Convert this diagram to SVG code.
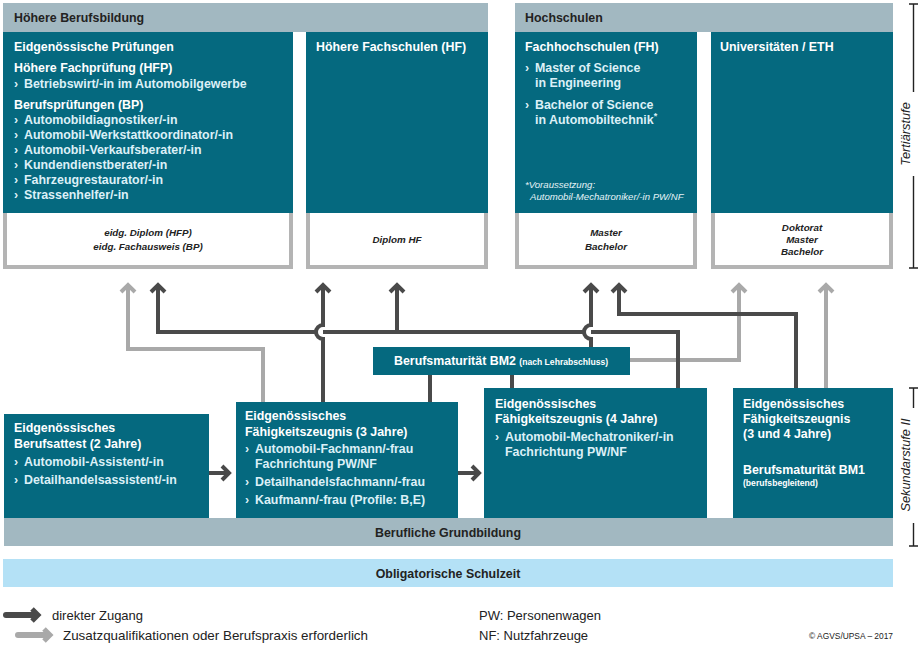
<svg xmlns="http://www.w3.org/2000/svg" width="920" height="647" viewBox="0 0 920 647">
<style>
text{font-family:"Liberation Sans",Arial,Helvetica,sans-serif}
.b{font-weight:bold;font-size:12.4px}
.dark{fill:#222}
.w{fill:#ffffff}
.it{fill:#dcf0f7}
.cert{font-style:italic;font-weight:bold;font-size:9.8px;fill:#222;text-anchor:middle}
.fn{font-style:italic;font-size:9.6px;fill:#e6f3f7}
.band{fill:#a2b8c1}
.teal{fill:#05697f}
.wbox{fill:#fff;stroke:#b4b4b4;stroke-width:4}
.dk{stroke:#4a4a4a;stroke-width:4;fill:none}
.lt{stroke:#a9a9a9;stroke-width:4;fill:none}
.leg{font-size:13px;fill:#222}
.stage{font-style:italic;font-size:12.8px;fill:#222;text-anchor:middle}
.br{stroke:#222;stroke-width:1.4;fill:none}
</style>
<defs>
<marker id="ad" markerUnits="userSpaceOnUse" markerWidth="24" markerHeight="24" viewBox="-12 -12 24 24" refX="0" refY="0" orient="auto">
<path d="M-7,-7 L0,0 L-7,7" stroke="#4a4a4a" stroke-width="4" fill="none"/>
</marker>
<marker id="al" markerUnits="userSpaceOnUse" markerWidth="24" markerHeight="24" viewBox="-12 -12 24 24" refX="0" refY="0" orient="auto">
<path d="M-7,-7 L0,0 L-7,7" stroke="#a9a9a9" stroke-width="4" fill="none"/>
</marker>
</defs>

<!-- header bands -->
<g id="hdr-hbb">
<rect class="band" x="3" y="3" width="485" height="29"/>
<text class="b dark" x="14" y="22">Höhere Berufsbildung</text>
</g>
<g id="hdr-hs">
<rect class="band" x="515" y="3" width="378" height="29"/>
<text class="b dark" x="525" y="22">Hochschulen</text>
</g>

<!-- Eidgenössische Prüfungen -->
<g id="node-ep">
<rect class="wbox" x="5" y="211" width="286" height="56"/>
<rect class="teal" x="3" y="32" width="290" height="181"/>
<text class="b w" x="14" y="51">Eidgenössische Prüfungen</text>
<text class="b w" x="14" y="72">Höhere Fachprüfung (HFP)</text>
<text class="b it" x="14" y="88">›</text><text class="b it" x="24" y="88">Betriebswirt/-in im Automobilgewerbe</text>
<text class="b w" x="14" y="109">Berufsprüfungen (BP)</text>
<text class="b it" x="14" y="124">›</text><text class="b it" x="24" y="124">Automobildiagnostiker/-in</text>
<text class="b it" x="14" y="139">›</text><text class="b it" x="24" y="139">Automobil-Werkstattkoordinator/-in</text>
<text class="b it" x="14" y="154">›</text><text class="b it" x="24" y="154">Automobil-Verkaufsberater/-in</text>
<text class="b it" x="14" y="169">›</text><text class="b it" x="24" y="169">Kundendienstberater/-in</text>
<text class="b it" x="14" y="184">›</text><text class="b it" x="24" y="184">Fahrzeugrestaurator/-in</text>
<text class="b it" x="14" y="199">›</text><text class="b it" x="24" y="199">Strassenhelfer/-in</text>
<text class="cert" x="148" y="236">eidg. Diplom (HFP)</text>
<text class="cert" x="148" y="250">eidg. Fachausweis (BP)</text>
</g>

<!-- HF -->
<g id="node-hf">
<rect class="wbox" x="308" y="211" width="178" height="56"/>
<rect class="teal" x="306" y="32" width="182" height="181"/>
<text class="b w" x="316" y="51">Höhere Fachschulen (HF)</text>
<text class="cert" x="397" y="243">Diplom HF</text>
</g>

<!-- FH -->
<g id="node-fh">
<rect class="wbox" x="517" y="211" width="178" height="56"/>
<rect class="teal" x="515" y="32" width="182" height="181"/>
<text class="b w" x="525" y="51">Fachhochschulen (FH)</text>
<text class="b it" x="525" y="72">›</text><text class="b it" x="535" y="72">Master of Science</text>
<text class="b it" x="535" y="87">in Engineering</text>
<text class="b it" x="525" y="109">›</text><text class="b it" x="535" y="109">Bachelor of Science</text>
<text class="b it" x="535" y="124">in Automobiltechnik<tspan style="font-size:9px" dy="-5">*</tspan></text>
<text class="fn" x="525" y="188">*Voraussetzung:</text>
<text class="fn" x="530" y="200">Automobil-Mechatroniker/-in PW/NF</text>
<text class="cert" x="606" y="236">Master</text>
<text class="cert" x="606" y="250">Bachelor</text>
</g>

<!-- Uni -->
<g id="node-uni">
<rect class="wbox" x="713" y="211" width="178" height="56"/>
<rect class="teal" x="711" y="32" width="182" height="181"/>
<text class="b w" x="720" y="51">Universitäten / ETH</text>
<text class="cert" x="802" y="231">Doktorat</text>
<text class="cert" x="802" y="243">Master</text>
<text class="cert" x="802" y="255">Bachelor</text>
</g>

<!-- connectors -->
<g id="connectors">
<path class="lt" d="M263,402 V349 H128 V285" marker-end="url(#al)"/>
<path class="lt" d="M630,360 H739 V285" marker-end="url(#al)"/>
<path class="lt" d="M826,388 V285" marker-end="url(#al)"/>
<path class="dk" d="M317,332 H158 V285" marker-end="url(#ad)"/>
<path class="dk" d="M323,332 H585"/>
<path class="dk" d="M591,332 H678 V388"/>
<path class="dk" d="M397,332 V285" marker-end="url(#ad)"/>
<path class="dk" d="M323,402 V339 A7,7 0 0 1 323,325 V285" marker-end="url(#ad)"/>
<path class="dk" d="M591,347 V339 A7,7 0 0 1 591,325 V285" marker-end="url(#ad)"/>
<path class="dk" d="M796,388 V314 H619 V285" marker-end="url(#ad)"/>
<path class="dk" d="M430,375 V402"/>
<path class="dk" d="M512,375 V388"/>
<path class="dk" d="M209,473 H229" marker-end="url(#ad)"/>
<path class="dk" d="M458,473 H479" marker-end="url(#ad)"/>
</g>

<!-- BM2 -->
<g id="node-bm2">
<rect class="teal" x="373" y="347" width="257" height="28"/>
<text class="b w" x="394" y="365">Berufsmaturität BM2 <tspan style="font-size:8.6px">(nach Lehrabschluss)</tspan></text>
</g>

<!-- EBA -->
<g id="node-eba">
<rect class="teal" x="4" y="414" width="205" height="104"/>
<text class="b w" x="14" y="432">Eidgenössisches</text>
<text class="b w" x="14" y="448">Berufsattest (2 Jahre)</text>
<text class="b it" x="14" y="466">›</text><text class="b it" x="24" y="466">Automobil-Assistent/-in</text>
<text class="b it" x="14" y="484">›</text><text class="b it" x="24" y="484">Detailhandelsassistent/-in</text>
</g>

<!-- EFZ 3 -->
<g id="node-efz3">
<rect class="teal" x="236" y="402" width="222" height="116"/>
<text class="b w" x="245" y="420">Eidgenössisches</text>
<text class="b w" x="245" y="436">Fähigkeitszeugnis (3 Jahre)</text>
<text class="b it" x="245" y="453">›</text><text class="b it" x="255" y="453">Automobil-Fachmann/-frau</text>
<text class="b it" x="255" y="468">Fachrichtung PW/NF</text>
<text class="b it" x="245" y="486">›</text><text class="b it" x="255" y="486">Detailhandelsfachmann/-frau</text>
<text class="b it" x="245" y="504">›</text><text class="b it" x="255" y="504">Kaufmann/-frau (Profile: B,E)</text>
</g>

<!-- EFZ 4 -->
<g id="node-efz4">
<rect class="teal" x="484" y="388" width="223" height="130"/>
<text class="b w" x="495" y="408">Eidgenössisches</text>
<text class="b w" x="495" y="423">Fähigkeitszeugnis (4 Jahre)</text>
<text class="b it" x="495" y="441">›</text><text class="b it" x="505" y="441">Automobil-Mechatroniker/-in</text>
<text class="b it" x="505" y="456">Fachrichtung PW/NF</text>
</g>

<!-- EFZ 3/4 + BM1 -->
<g id="node-efz34">
<rect class="teal" x="733" y="388" width="160" height="130"/>
<text class="b w" x="743" y="408">Eidgenössisches</text>
<text class="b w" x="743" y="423">Fähigkeitszeugnis</text>
<text class="b w" x="743" y="438">(3 und 4 Jahre)</text>
<text class="b w" x="743" y="474">Berufsmaturität BM1</text>
<text class="b w" x="743" y="486" style="font-size:8.6px">(berufsbegleitend)</text>
</g>

<!-- bottom bands -->
<g id="band-grund">
<rect class="band" x="4" y="518" width="889" height="28"/>
<text class="b dark" x="448" y="537" text-anchor="middle">Berufliche Grundbildung</text>
</g>
<g id="band-schule">
<rect fill="#b4e1f6" x="3" y="559" width="890" height="28"/>
<text class="b dark" x="448" y="578" text-anchor="middle">Obligatorische Schulzeit</text>
</g>

<!-- stage brackets -->
<g id="stage-tertiaer">
<path class="br" d="M913.5,4 V92 M913.5,176 V268 M909,4 H918 M909,268 H918"/>
<text class="stage" transform="translate(910,134) rotate(-90)">Tertiärstufe</text>
</g>
<g id="stage-sek">
<path class="br" d="M913.5,388 V408 M913.5,523 V546 M909,388 H918 M909,546 H918"/>
<text class="stage" transform="translate(910,465) rotate(-90)">Sekundarstufe II</text>
</g>

<!-- legend -->
<g id="legend">
<path d="M6,615 H33" stroke="#4a4a4a" stroke-width="6" stroke-linecap="round" fill="none"/>
<path d="M32,609 L38,615 L32,621" stroke="#4a4a4a" stroke-width="5" fill="none"/>
<text class="leg" x="52" y="620">direkter Zugang</text>
<path d="M18,635 H45" stroke="#a9a9a9" stroke-width="6" stroke-linecap="round" fill="none"/>
<path d="M44,629 L50,635 L44,641" stroke="#a9a9a9" stroke-width="5" fill="none"/>
<text class="leg" x="63" y="640" textLength="305" lengthAdjust="spacingAndGlyphs">Zusatzqualifikationen oder Berufspraxis erforderlich</text>
<text class="leg" x="479" y="620">PW: Personenwagen</text>
<text class="leg" x="479" y="640">NF: Nutzfahrzeuge</text>
<text x="893" y="639" font-size="8.4px" fill="#222" text-anchor="end">© AGVS/UPSA – 2017</text>
</g>
</svg>
